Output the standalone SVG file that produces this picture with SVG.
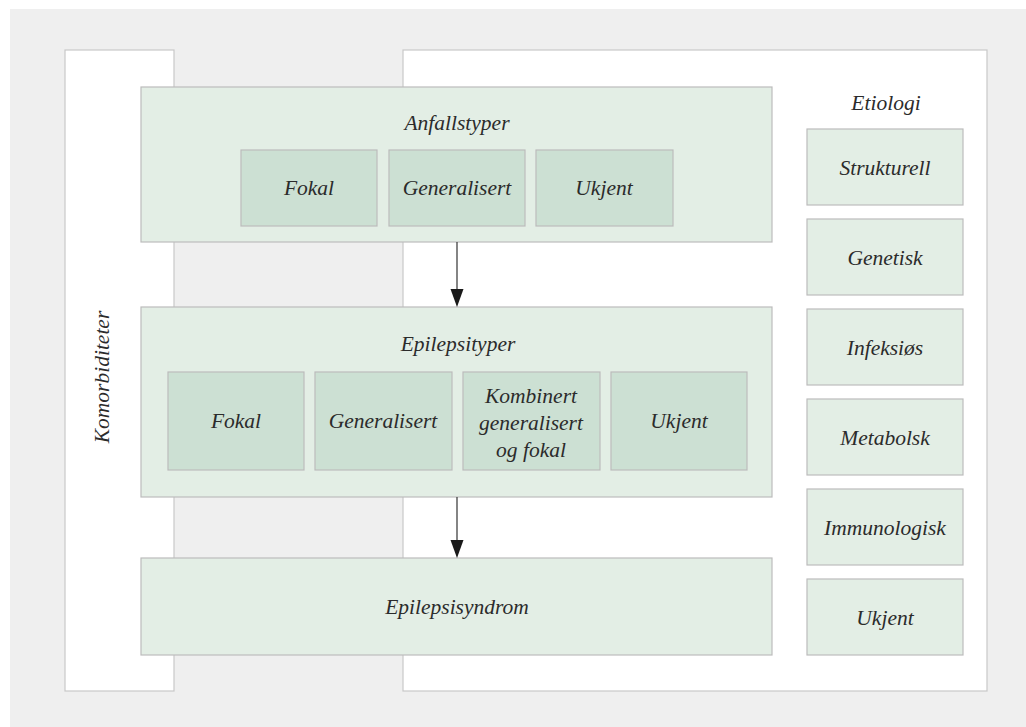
<svg xmlns="http://www.w3.org/2000/svg" width="1026" height="727" viewBox="0 0 1026 727">
<defs>
<style>
.bg{fill:#efefef}
.frame{fill:#ffffff;stroke:#c8c8c8;stroke-width:1.2}
.big{fill:#e3eee5;stroke:#bcbcbc;stroke-width:1.2}
.sub{fill:#cce0d3;stroke:#bcbcbc;stroke-width:1.2}
.ety{fill:#e3eee5;stroke:#bcbcbc;stroke-width:1.2}
text{font-family:"Liberation Serif","DejaVu Serif",serif;font-style:italic;font-size:21.5px;fill:#2b2b2b;text-anchor:middle;dominant-baseline:central}
.conn{stroke:#333;stroke-width:1.2;fill:none}
.head{fill:#1a1a1a}
</style>
</defs>
<rect class="bg" x="10" y="9" width="1016" height="718"/>
<g id="komorbiditeter">
<rect class="frame" x="65" y="50" width="109" height="641"/>
<text transform="translate(102,377) rotate(-90)">Komorbiditeter</text>
</g>
<g id="etiologi-frame">
<rect class="frame" x="403" y="50" width="584" height="641"/>
<text x="886" y="103">Etiologi</text>
</g>
<g id="anfallstyper">
<rect class="big" x="141" y="87" width="631" height="155"/>
<text x="457" y="123">Anfallstyper</text>
<rect class="sub" x="241" y="150" width="136" height="76"/>
<text x="309" y="188">Fokal</text>
<rect class="sub" x="389" y="150" width="136" height="76"/>
<text x="457" y="188">Generalisert</text>
<rect class="sub" x="536" y="150" width="137" height="76"/>
<text x="604" y="188">Ukjent</text>
</g>
<g id="epilepsityper">
<rect class="big" x="141" y="307" width="631" height="190"/>
<text x="458" y="344">Epilepsityper</text>
<rect class="sub" x="168" y="372" width="136" height="98"/>
<text x="236" y="421">Fokal</text>
<rect class="sub" x="315" y="372" width="137" height="98"/>
<text x="383" y="421">Generalisert</text>
<rect class="sub" x="463" y="372" width="137" height="98"/>
<text x="531" y="396">Kombinert</text>
<text x="531" y="423">generalisert</text>
<text x="531" y="450">og fokal</text>
<rect class="sub" x="611" y="372" width="136" height="98"/>
<text x="679" y="421">Ukjent</text>
</g>
<g id="epilepsisyndrom">
<rect class="big" x="141" y="558" width="631" height="97"/>
<text x="457" y="607">Epilepsisyndrom</text>
</g>
<g id="etiologi-items">
<rect class="ety" x="807" y="129" width="156" height="76"/>
<text x="885" y="168">Strukturell</text>
<rect class="ety" x="807" y="219" width="156" height="76"/>
<text x="885" y="258">Genetisk</text>
<rect class="ety" x="807" y="309" width="156" height="76"/>
<text x="885" y="348">Infeksiøs</text>
<rect class="ety" x="807" y="399" width="156" height="76"/>
<text x="885" y="438">Metabolsk</text>
<rect class="ety" x="807" y="489" width="156" height="76"/>
<text x="885" y="528">Immunologisk</text>
<rect class="ety" x="807" y="579" width="156" height="76"/>
<text x="885" y="618">Ukjent</text>
</g>
<g id="connectors">
<line class="conn" x1="457" y1="242" x2="457" y2="292"/>
<path class="head" d="M450.5,289 L463.5,289 L457,307 Z"/>
<line class="conn" x1="457" y1="497" x2="457" y2="543"/>
<path class="head" d="M450.5,540 L463.5,540 L457,558 Z"/>
</g>
</svg>
